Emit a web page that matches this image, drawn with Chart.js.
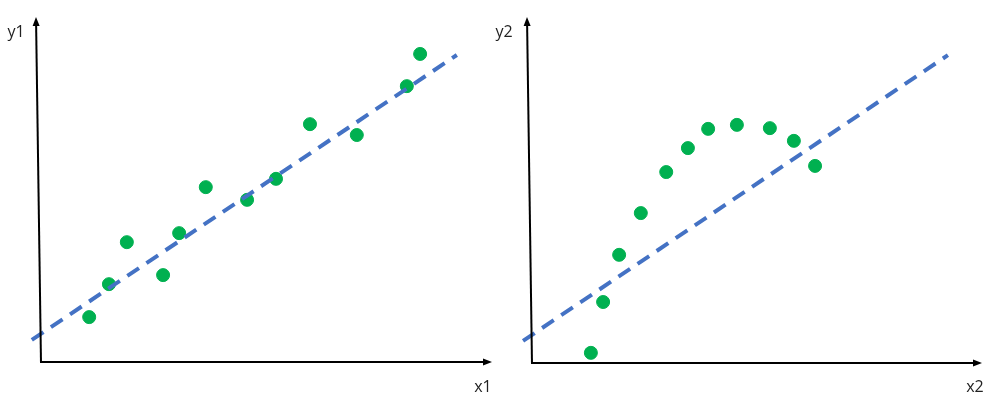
<!DOCTYPE html>
<html lang="en">
  <head>
    <meta charset="UTF-8" />
    <title>Linear fit vs curved data</title>
    <script src="https://cdn.jsdelivr.net/npm/chart.js@4"></script>
    <style>
      body { margin: 0; background: #fff; }
      #wrap { position: relative; width: 1003px; height: 410px; }
      #left { position: absolute; left: 0; top: 0; }
      #right { position: absolute; left: 480px; top: 0; }
    </style>
  </head>
  <body>
    <div id="wrap">
      <canvas id="left" width="500" height="410"></canvas>
      <canvas id="right" width="523" height="410"></canvas>
    </div>

    <script>
      // values, both panels on a 0-10 scale
      const x1 = [1.05, 1.48, 1.87, 2.66, 3.01, 3.59, 4.49, 5.12, 5.86, 6.88, 7.97, 8.26];
      const y1 = [1.24, 2.15, 3.31, 2.40, 3.56, 4.83, 4.48, 5.06, 6.57, 6.27, 7.62, 8.51];
      const fit1X = [-0.20, 9.06];
      const fit1Y = [0.61, 8.48];

      const x2 = [1.25, 1.51, 1.85, 2.31, 2.85, 3.31, 3.74, 4.35, 5.05, 5.56, 6.01];
      const y2 = [0.28, 1.68, 2.98, 4.13, 5.26, 5.92, 6.45, 6.56, 6.47, 6.12, 5.43];
      const fit2X = [-0.19, 8.83];
      const fit2Y = [0.61, 8.48];

      const green = '#00b050';
      const blue = '#4472c4';

      function pairs(xs, ys) {
        return xs.map((x, i) => ({ x: x, y: ys[i] }));
      }

      function arrow(ctx, x0, y0, x1, y1) {
        const a = Math.atan2(y1 - y0, x1 - x0);
        ctx.beginPath();
        ctx.moveTo(x0, y0);
        ctx.lineTo(x1 - 6 * Math.cos(a), y1 - 6 * Math.sin(a));
        ctx.stroke();
        ctx.beginPath();
        ctx.moveTo(x1, y1);
        ctx.lineTo(x1 - 9 * Math.cos(a) + 3.5 * Math.sin(a), y1 - 9 * Math.sin(a) - 3.5 * Math.cos(a));
        ctx.lineTo(x1 - 9 * Math.cos(a) - 3.5 * Math.sin(a), y1 - 9 * Math.sin(a) + 3.5 * Math.cos(a));
        ctx.closePath();
        ctx.fill();
      }

      // hand drawn looking axes with arrow heads and the x / y names
      const axesPlugin = {
        id: 'axes',
        afterDraw(chart, args, opts) {
          const ctx = chart.ctx;
          const a = chart.chartArea;
          ctx.save();
          ctx.strokeStyle = '#000';
          ctx.fillStyle = '#000';
          ctx.lineWidth = 2;
          arrow(ctx, a.left, a.bottom + 1, a.left - 5, 17);
          arrow(ctx, a.left - 1, a.bottom, opts.xEnd, a.bottom);
          ctx.fillStyle = '#222';
          ctx.font = '16px "Open Sans", "Noto Sans", sans-serif';
          ctx.textAlign = 'center';
          ctx.textBaseline = 'middle';
          ctx.fillText(opts.yName, opts.yNamePos[0], opts.yNamePos[1]);
          ctx.fillText(opts.xName, opts.xNamePos[0], opts.xNamePos[1]);
          ctx.restore();
        }
      };

      function makeChart(id, xs, ys, fx, fy, pad, axesOpts) {
        const ctx = document.getElementById(id).getContext('2d');
        return new Chart(ctx, {
          type: 'scatter',
          data: {
            datasets: [
              {
                data: pairs(xs, ys),
                backgroundColor: green,
                borderColor: green,
                pointRadius: 6.5,
                pointHoverRadius: 6.5,
                order: 1,
                clip: false
              },
              {
                data: pairs(fx, fy),
                showLine: true,
                borderColor: blue,
                borderWidth: 4,
                borderDash: [14, 9],
                pointRadius: 0,
                order: 0,
                clip: false
              }
            ]
          },
          options: {
            responsive: false,
            animation: false,
            events: [],
            layout: { padding: pad, autoPadding: false },
            scales: {
              x: { type: 'linear', min: 0, max: 10, display: false },
              y: { type: 'linear', min: 0, max: 10, display: false }
            },
            plugins: {
              legend: { display: false },
              tooltip: { enabled: false },
              axes: axesOpts
            }
          },
          plugins: [axesPlugin]
        });
      }

      // left canvas 0..500, chart area 41..500
      makeChart('left', x1, y1, fit1X, fit1Y,
        { left: 41, right: 0, top: 0, bottom: 48 },
        { xEnd: 492, yName: 'y1', xName: 'x1', yNamePos: [16, 32], xNamePos: [483, 387] });

      // right canvas starts at 480 (transparent overlap), chart area 532..1003
      makeChart('right', x2, y2, fit2X, fit2Y,
        { left: 52, right: 0, top: 0, bottom: 47 },
        { xEnd: 502, yName: 'y2', xName: 'x2', yNamePos: [24, 32], xNamePos: [495, 387] });
    </script>
  </body>
</html>
